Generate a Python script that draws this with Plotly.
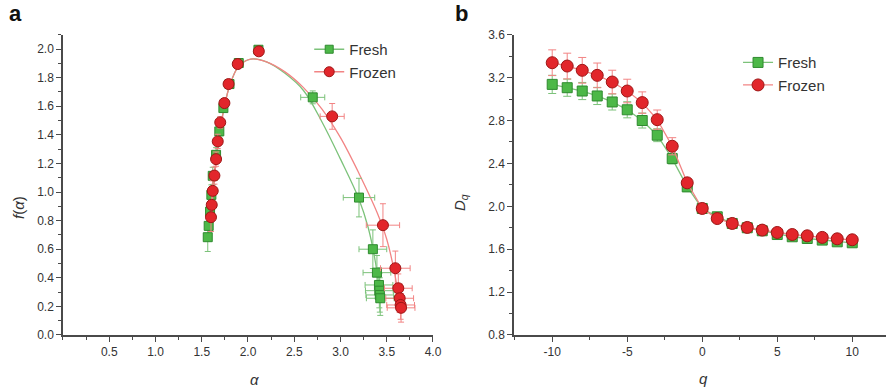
import plotly.graph_objects as go

# ---- Panel a: multifractal spectrum ----
fresh_alpha = [1.565, 1.575, 1.59, 1.604, 1.619, 1.655, 1.69, 1.734, 1.80, 1.90, 2.113,
               2.70, 3.20, 3.35, 3.394, 3.416, 3.42, 3.425, 3.43]
fresh_f = [0.684, 0.763, 0.863, 0.98, 1.113, 1.26, 1.424, 1.587, 1.755, 1.902, 1.995,
           1.662, 0.961, 0.60, 0.436, 0.35, 0.31, 0.28, 0.257]
fresh_ex = [0.02] * 11 + [0.13, 0.17, 0.15, 0.15, 0.15, 0.15, 0.15, 0.15]
fresh_ey = [0.10, 0.08, 0.07, 0.07, 0.06, 0.05, 0.04, 0.03, 0.02, 0.02, 0.02,
            0.045, 0.135, 0.135, 0.12, 0.12, 0.12, 0.12, 0.12]

frozen_alpha = [1.60, 1.608, 1.619, 1.637, 1.655, 1.673, 1.70, 1.745, 1.79, 1.889, 2.117,
                2.91, 3.459, 3.593, 3.625, 3.64, 3.65, 3.655]
frozen_f = [0.824, 0.91, 1.008, 1.115, 1.23, 1.354, 1.487, 1.622, 1.755, 1.895, 1.984,
            1.529, 0.768, 0.467, 0.327, 0.257, 0.21, 0.19]
frozen_ex = [0.02] * 11 + [0.13, 0.18, 0.16, 0.15, 0.15, 0.15, 0.15]
frozen_ey = [0.10, 0.08, 0.07, 0.06, 0.05, 0.05, 0.04, 0.03, 0.02, 0.02, 0.02,
             0.09, 0.15, 0.12, 0.10, 0.10, 0.10, 0.10]

fresh_fit_alpha = [1.565, 1.58, 1.60, 1.63, 1.67, 1.72, 1.80, 1.90, 2.03, 2.2, 2.4, 2.6,
                   2.8, 3.0, 3.2, 3.3, 3.38, 3.43]
fresh_fit_f = [0.68, 0.78, 0.92, 1.08, 1.30, 1.52, 1.74, 1.88, 1.93, 1.91, 1.83, 1.71,
               1.49, 1.23, 0.95, 0.75, 0.50, 0.25]
frozen_fit_alpha = [1.60, 1.62, 1.65, 1.69, 1.74, 1.80, 1.90, 2.03, 2.2, 2.4, 2.6, 2.8,
                    3.0, 3.2, 3.4, 3.5, 3.58, 3.64]
frozen_fit_f = [0.82, 0.98, 1.18, 1.40, 1.58, 1.74, 1.88, 1.93, 1.91, 1.84, 1.73, 1.58,
                1.38, 1.13, 0.85, 0.67, 0.45, 0.22]

# ---- Panel b: generalized dimensions ----
q = list(range(-10, 11))
fresh_dq = [3.137, 3.106, 3.075, 3.029, 2.973, 2.90, 2.80, 2.663, 2.445, 2.181, 1.98,
            1.902, 1.84, 1.80, 1.772, 1.737, 1.716, 1.70, 1.685, 1.669, 1.66]
fresh_dq_err = [0.085, 0.08, 0.08, 0.08, 0.075, 0.075, 0.07, 0.06, 0.05, 0.03, 0.02,
                0.02, 0.02, 0.02, 0.02, 0.02, 0.02, 0.02, 0.02, 0.02, 0.02]
frozen_dq = [3.339, 3.308, 3.268, 3.221, 3.159, 3.075, 2.967, 2.808, 2.56, 2.219, 1.98,
             1.886, 1.84, 1.803, 1.778, 1.756, 1.737, 1.725, 1.71, 1.697, 1.688]
frozen_dq_err = [0.12, 0.12, 0.12, 0.115, 0.11, 0.11, 0.10, 0.09, 0.08, 0.04, 0.02,
                 0.02, 0.02, 0.02, 0.02, 0.02, 0.02, 0.02, 0.02, 0.02, 0.02]
q_tickvals = [-10, -5, 0, 5, 10]
q_ticktext = ["-10", "-5", "0", "5", "10"]

G_FILL, G_EDGE, G_LINE = "#4DB848", "#2F8A2F", "#7CC27A"
R_FILL, R_EDGE, R_LINE = "#E2262B", "#9E1616", "#F28484"
FONT = "Liberation Sans, Arial, sans-serif"
W, H = 886, 388

fig = go.Figure()

# Panel a traces
fig.add_trace(go.Scatter(x=fresh_fit_alpha, y=fresh_fit_f, mode="lines",
                         line=dict(color=G_LINE, width=1.3, shape="spline"),
                         showlegend=False, xaxis="x", yaxis="y"))
fig.add_trace(go.Scatter(x=frozen_fit_alpha, y=frozen_fit_f, mode="lines",
                         line=dict(color=R_LINE, width=1.3, shape="spline"),
                         showlegend=False, xaxis="x", yaxis="y"))
fig.add_trace(go.Scatter(x=fresh_alpha, y=fresh_f, mode="markers",
                         marker=dict(symbol="square", size=9, color=G_FILL, line=dict(color=G_EDGE, width=1)),
                         error_x=dict(type="data", array=fresh_ex, color=G_LINE, thickness=1, width=3),
                         error_y=dict(type="data", array=fresh_ey, color=G_LINE, thickness=1, width=3),
                         showlegend=False, xaxis="x", yaxis="y"))
fig.add_trace(go.Scatter(x=frozen_alpha, y=frozen_f, mode="markers",
                         marker=dict(symbol="circle", size=11, color=R_FILL, line=dict(color=R_EDGE, width=1)),
                         error_x=dict(type="data", array=frozen_ex, color=R_LINE, thickness=1, width=3),
                         error_y=dict(type="data", array=frozen_ey, color=R_LINE, thickness=1, width=3),
                         showlegend=False, xaxis="x", yaxis="y"))
fig.add_trace(go.Scatter(x=[None], y=[None], mode="lines+markers", name="Fresh",
                         line=dict(color=G_LINE, width=1.3),
                         marker=dict(symbol="square", size=8, color=G_FILL, line=dict(color=G_EDGE, width=1)),
                         legend="legend", xaxis="x", yaxis="y"))
fig.add_trace(go.Scatter(x=[None], y=[None], mode="lines+markers", name="Frozen",
                         line=dict(color=R_LINE, width=1.3),
                         marker=dict(symbol="circle", size=10, color=R_FILL, line=dict(color=R_EDGE, width=1)),
                         legend="legend", xaxis="x", yaxis="y"))

# Panel b traces
fig.add_trace(go.Scatter(x=q, y=fresh_dq, mode="lines+markers", name="Fresh",
                         line=dict(color=G_LINE, width=1.3),
                         marker=dict(symbol="square", size=10, color=G_FILL, line=dict(color=G_EDGE, width=1)),
                         error_y=dict(type="data", array=fresh_dq_err, color=G_LINE, thickness=1, width=4),
                         legend="legend2", xaxis="x2", yaxis="y2"))
fig.add_trace(go.Scatter(x=q, y=frozen_dq, mode="lines+markers", name="Frozen",
                         line=dict(color=R_LINE, width=1.3),
                         marker=dict(symbol="circle", size=12, color=R_FILL, line=dict(color=R_EDGE, width=1)),
                         error_y=dict(type="data", array=frozen_dq_err, color=R_LINE, thickness=1, width=4),
                         legend="legend2", xaxis="x2", yaxis="y2"))

axis_common = dict(showline=True, linecolor="#4a4a4a", linewidth=1.5, ticks="outside", ticklen=5,
                   tickwidth=1.2, tickcolor="#4a4a4a", showgrid=False, zeroline=False,
                   tickfont=dict(family=FONT, size=12, color="#333333"), automargin=False)
minor_common = dict(ticks="outside", ticklen=3, tickwidth=1, tickcolor="#4a4a4a", showgrid=False)


def px(xp, yp):
    return xp / W, 1 - yp / H


ann = []
for text, (xp, yp), size, angle in [
    ("<b>a</b>", (15, 14), 22, 0),
    ("<b>b</b>", (461, 14), 22, 0),
    ("<i>f</i>(<i>α</i>)", (18, 208), 15, -90),
    ("<i>α</i>", (254, 379), 15, 0),
    ("<i>D</i><sub><i>q</i></sub>", (460, 203), 15, -90),
    ("<i>q</i>", (703, 378), 15, 0),
]:
    xx, yy = px(xp, yp)
    ann.append(dict(text=text, x=xx, y=yy, xref="paper", yref="paper", showarrow=False,
                    xanchor="center", yanchor="middle", textangle=angle,
                    font=dict(family=FONT, size=size, color="#111111" if size > 20 else "#333333")))

YDOM = [0.1366, 0.9105]
fig.update_layout(
    width=W, height=H, margin=dict(l=0, r=0, t=0, b=0),
    paper_bgcolor="white", plot_bgcolor="white",
    font=dict(family=FONT, color="#333333"),
    xaxis=dict(domain=[0.0711, 0.4887], range=[0, 4.0], tickvals=[0.5, 1.0, 1.5, 2.0, 2.5, 3.0, 3.5, 4.0],
               tickformat=".1f", minor=dict(dtick=0.25, **minor_common), anchor="y", **axis_common),
    yaxis=dict(domain=YDOM, range=[0, 2.1], tick0=0, dtick=0.2, tickformat=".1f",
               minor=dict(dtick=0.1, **minor_common), anchor="x", **axis_common),
    xaxis2=dict(domain=[0.5801, 1.0], range=[-12.55, 12.25], tickvals=q_tickvals, ticktext=q_ticktext,
                minor=dict(dtick=2.5, tick0=0, **minor_common), anchor="y2", **axis_common),
    yaxis2=dict(domain=YDOM, range=[0.8, 3.6], tick0=0.8, dtick=0.4, tickformat=".1f",
                minor=dict(dtick=0.2, tick0=0.8, **minor_common), anchor="x2", **axis_common),
    legend=dict(x=0.349, y=0.915, xanchor="left", yanchor="top", bgcolor="rgba(0,0,0,0)",
                font=dict(family=FONT, size=15, color="#333333"), tracegroupgap=0, itemwidth=30),
    legend2=dict(x=0.833, y=0.881, xanchor="left", yanchor="top", bgcolor="rgba(0,0,0,0)",
                 font=dict(family=FONT, size=15, color="#333333"), tracegroupgap=0, itemwidth=30),
    annotations=ann,
)

fig.write_html("out.html", config={"displayModeBar": False},
               post_script="document.body.style.margin='0';document.body.style.overflow='hidden';")
